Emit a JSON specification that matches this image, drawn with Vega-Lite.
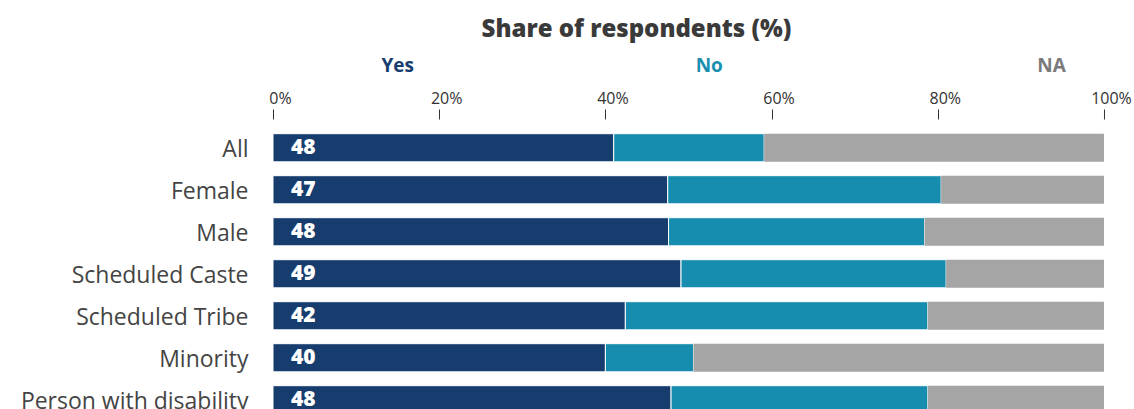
{
  "$schema": "https://vega.github.io/schema/vega-lite/v6.json",
  "autosize": "none",
  "padding": {"left": 273, "top": 119, "right": 30, "bottom": 0},
  "width": 831,
  "height": {"step": 42},
  "background": "white",
  "title": {"text": "Share of respondents (%)", "fontSize": 24, "font": "Open Sans", "fontWeight": 800, "color": "#3a3a3a", "anchor": "middle", "dx": -52, "offset": 15},
  "config": {"view": {"stroke": null}, "font": "Open Sans"},
  "datasets": {
    "bars": [
      {"group": "All", "response": "Yes", "pct": 41.0},
      {"group": "All", "response": "No", "pct": 18.1},
      {"group": "All", "response": "NA", "pct": 40.9},
      {"group": "Female", "response": "Yes", "pct": 47.5},
      {"group": "Female", "response": "No", "pct": 32.9},
      {"group": "Female", "response": "NA", "pct": 19.6},
      {"group": "Male", "response": "Yes", "pct": 47.6},
      {"group": "Male", "response": "No", "pct": 30.8},
      {"group": "Male", "response": "NA", "pct": 21.6},
      {"group": "Scheduled Caste", "response": "Yes", "pct": 49.1},
      {"group": "Scheduled Caste", "response": "No", "pct": 31.9},
      {"group": "Scheduled Caste", "response": "NA", "pct": 19.0},
      {"group": "Scheduled Tribe", "response": "Yes", "pct": 42.4},
      {"group": "Scheduled Tribe", "response": "No", "pct": 36.4},
      {"group": "Scheduled Tribe", "response": "NA", "pct": 21.2},
      {"group": "Minority", "response": "Yes", "pct": 40.0},
      {"group": "Minority", "response": "No", "pct": 10.6},
      {"group": "Minority", "response": "NA", "pct": 49.4},
      {"group": "Person with disability", "response": "Yes", "pct": 47.9},
      {"group": "Person with disability", "response": "No", "pct": 30.9},
      {"group": "Person with disability", "response": "NA", "pct": 21.2}
    ],
    "labels": [
      {"group": "All", "label": 48},
      {"group": "Female", "label": 47},
      {"group": "Male", "label": 48},
      {"group": "Scheduled Caste", "label": 49},
      {"group": "Scheduled Tribe", "label": 42},
      {"group": "Minority", "label": 40},
      {"group": "Person with disability", "label": 48}
    ],
    "header": [
      {"response": "Yes", "pos": 15.0},
      {"response": "No", "pos": 52.5},
      {"response": "NA", "pos": 93.7}
    ]
  },
  "layer": [
    {
      "data": {"name": "bars"},
      "transform": [{"calculate": "indexof(['Yes','No','NA'], datum.response)", "as": "ord"}],
      "mark": {"type": "bar", "stroke": "white"},
      "encoding": {
        "y": {
          "field": "group", "type": "nominal",
          "sort": ["All", "Female", "Male", "Scheduled Caste", "Scheduled Tribe", "Minority", "Person with disability"],
          "scale": {"paddingInner": 0.33, "paddingOuter": 0.35},
          "axis": {"title": null, "ticks": false, "domain": false, "labelFontSize": 23, "labelColor": "#444444", "labelPadding": 25, "labelOffset": 2, "labelFont": "Open Sans", "labelLimit": 400}
        },
        "x": {
          "field": "pct", "type": "quantitative", "stack": "zero",
          "scale": {"domain": [0, 100], "nice": false},
          "axis": {"orient": "top", "values": [0, 20, 40, 60, 80, 100], "labelExpr": "datum.value + '%'", "tickSize": 10, "tickColor": "#333333", "domain": false, "grid": false, "labelFontSize": 16, "labelColor": "#333333", "labelPadding": 2, "labelOffset": 7, "labelFlush": false, "title": null, "labelFont": "Open Sans"}
        },
        "color": {
          "field": "response", "type": "nominal",
          "scale": {"domain": ["Yes", "No", "NA"], "range": ["#173d6f", "#168dae", "#a5a5a5"]},
          "legend": null
        },
        "order": {"field": "ord", "type": "quantitative"},
        "strokeWidth": {"condition": {"test": "datum.response === 'NA'", "value": 0}, "value": 1}
      }
    },
    {
      "data": {"name": "labels"},
      "mark": {"type": "text", "align": "left", "baseline": "middle", "dx": 18, "color": "white", "fontWeight": 800, "fontSize": 21, "font": "Open Sans"},
      "encoding": {
        "y": {"field": "group", "type": "nominal", "sort": ["All", "Female", "Male", "Scheduled Caste", "Scheduled Tribe", "Minority", "Person with disability"]},
        "x": {"datum": 0},
        "text": {"field": "label", "type": "quantitative"}
      }
    },
    {
      "data": {"name": "header"},
      "mark": {"type": "text", "y": -53, "baseline": "middle", "align": "center", "fontWeight": "bold", "fontSize": 19, "font": "Open Sans"},
      "encoding": {
        "x": {"field": "pos", "type": "quantitative"},
        "text": {"field": "response", "type": "nominal"},
        "color": {"condition": [{"test": "datum.response === 'Yes'", "value": "#173d6f"}, {"test": "datum.response === 'No'", "value": "#1a8fb0"}], "value": "#7a7a7a"}
      }
    }
  ]
}
